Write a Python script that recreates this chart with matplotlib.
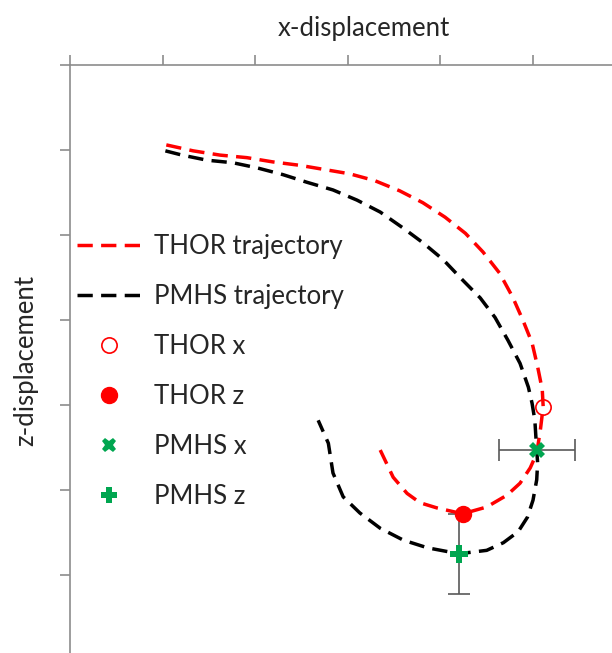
import matplotlib
matplotlib.use("Agg")
import matplotlib.pyplot as plt
from matplotlib.lines import Line2D

plt.rcParams.update({"font.family": ["Lato", "DejaVu Sans"], "font.size": 18.5,
                     "lines.scale_dashes": False})

RED, INK, GREEN, AXIS, BAR, TXT = "#ff0000", "#000000", "#00a650", "#8c8c8c", "#595959", "#262626"

# trajectories (x forward, z downward)
thor_x = [104, 133, 162, 191, 219, 248, 275, 302, 329, 356, 381, 405, 427, 446, 464, 478,
          489, 499, 505, 510, 511, 508, 504, 497, 486, 472, 450, 424, 396, 378, 364, 349, 335]
thor_z = [94, 101, 106, 109, 114, 118, 123, 128, 136, 148, 162, 179, 198, 220, 245, 273,
          300, 327, 355, 382, 402, 429, 457, 474, 492, 506, 520, 528, 521, 515, 504, 485, 453]
pmhs_x = [103, 121, 148, 176, 202, 230, 256, 284, 310, 335, 360, 381, 403, 424, 443, 459, 473,
          486, 495, 499, 502, 504, 505, 504, 500, 494, 484, 468, 450, 420, 386, 360, 335, 313,
          295, 284, 279, 268]
pmhs_z = [101, 106, 112, 115, 121, 129, 138, 147, 159, 173, 192, 209, 229, 253, 274, 297, 324,
          351, 379, 398, 418, 453, 468, 488, 512, 532, 549, 562, 571, 575, 568, 559, 545, 527,
          508, 480, 445, 418]

# peak excursion points
thor_xpk = (511, 402)
thor_zpk = (424, 528)
pmhs_xpk = (504, 453)
pmhs_zpk = (420, 575)
pmhs_xerr = 41
pmhs_zerr = 47

W, H = 612, 653
fig = plt.figure(figsize=(W / 100, H / 100), dpi=100)
ax = fig.add_axes([70 / W, (H - 655) / H, (658 - 70) / W, (655 - 65) / H])
ax.set_xlim(0, (658 - 70) / 0.926)
ax.set_ylim((655 - 65) / 0.85, 0)

dash = (0, (11, 6))
ax.plot(thor_x, thor_z, color=RED, lw=2.5, ls=dash, zorder=3)
ax.plot(pmhs_x, pmhs_z, color=INK, lw=2.5, ls=dash, zorder=3)

ax.errorbar(*pmhs_xpk, xerr=pmhs_xerr, fmt="none", ecolor=BAR, elinewidth=1.2, capsize=8,
            capthick=1.2, zorder=2)
ax.errorbar(*pmhs_zpk, yerr=pmhs_zerr, fmt="none", ecolor=BAR, elinewidth=1.2, capsize=8,
            capthick=1.2, zorder=2)

mk = dict(ls="none", zorder=5)
ax.plot(*thor_xpk, marker="o", ms=11, mfc="none", mec=RED, mew=1.2, **mk)
ax.plot(*thor_zpk, marker="o", ms=11.5, color=RED, **mk)
ax.plot(*pmhs_xpk, marker="X", ms=11.5, color=GREEN, mew=0, **mk)
ax.plot(*pmhs_zpk, marker="P", ms=12.5, color=GREEN, mew=0, **mk)

for s in ("right", "bottom"):
    ax.spines[s].set_visible(False)
for s in ("top", "left"):
    ax.spines[s].set_color(AXIS)
    ax.spines[s].set_linewidth(1.2)
ax.set_xticks(range(0, 700, 100))
ax.set_yticks(range(0, 700, 100))
ax.tick_params(axis="x", top=True, bottom=False, labeltop=False, labelbottom=False,
               direction="out", length=7, width=1.2, color=AXIS)
ax.tick_params(axis="y", left=True, labelleft=False, direction="out", length=7,
               width=1.2, color=AXIS)
ax.xaxis.set_label_position("top")
ax.set_xlabel("x-displacement", labelpad=14, color=TXT)
ax.set_ylabel("z-displacement", labelpad=16, color=TXT)

handles = [
    Line2D([], [], color=RED, lw=2.5, ls=dash),
    Line2D([], [], color=INK, lw=2.5, ls=dash),
    Line2D([], [], marker="o", ms=11, mfc="none", mec=RED, mew=1.2, ls="none"),
    Line2D([], [], marker="o", ms=11.5, color=RED, ls="none"),
    Line2D([], [], marker="X", ms=10.5, color=GREEN, mew=0, ls="none"),
    Line2D([], [], marker="P", ms=11, color=GREEN, mew=0, ls="none"),
]
labels = ["THOR trajectory", "PMHS trajectory", "THOR x", "THOR z", "PMHS x", "PMHS z"]
leg = ax.legend(handles, labels, loc="upper left", bbox_to_anchor=(77 / W, 1 - 234 / H),
                bbox_transform=fig.transFigure, frameon=False, borderpad=0,
                borderaxespad=0, handlelength=2.5, handletextpad=0.5, labelspacing=0.97)
for t in leg.get_texts():
    t.set_color(TXT)

fig.savefig("out.png", dpi=100)
